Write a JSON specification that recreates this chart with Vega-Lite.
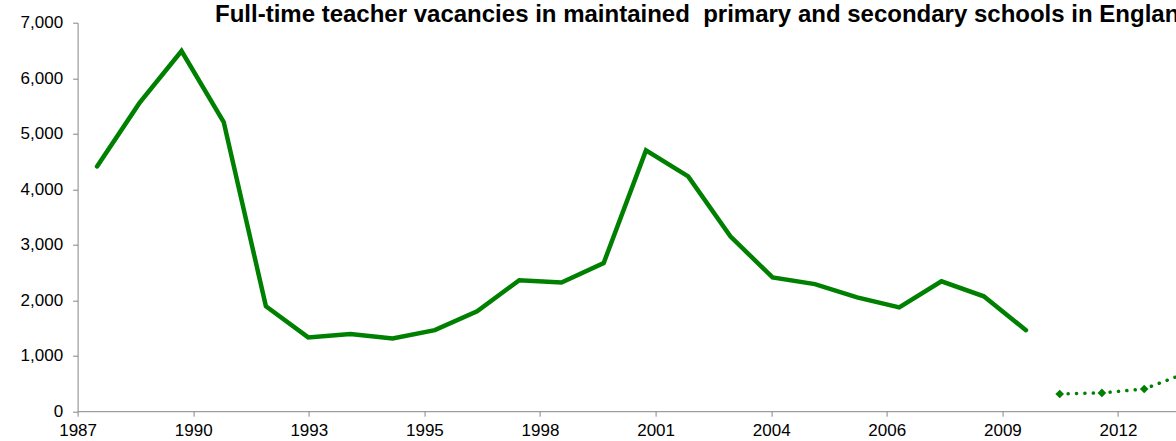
{
  "$schema": "https://vega.github.io/schema/vega-lite/v6.json",
  "autosize": "none",
  "width": 1098.4,
  "height": 388.5,
  "padding": {"left": 77.6, "top": 22.7, "right": 0, "bottom": 29.8},
  "background": "white",
  "config": {"view": {"stroke": null}, "font": "Liberation Sans"},
  "title": {
    "text": "Full-time teacher vacancies in maintained\u00a0 primary and secondary schools in England",
    "anchor": "start",
    "frame": "group",
    "orient": "top",
    "dx": 137.4,
    "offset": -32.6,
    "baseline": "alphabetic",
    "font": "Liberation Sans",
    "fontSize": 24,
    "fontWeight": "bold",
    "color": "#000000"
  },
  "datasets": {
    "main": [
      {"date": "1988-02-01", "vacancies": 4410},
      {"date": "1989-02-01", "vacancies": 5550},
      {"date": "1990-02-01", "vacancies": 6490},
      {"date": "1991-02-01", "vacancies": 5210},
      {"date": "1992-02-01", "vacancies": 1890},
      {"date": "1993-02-01", "vacancies": 1330},
      {"date": "1994-02-01", "vacancies": 1390},
      {"date": "1995-02-01", "vacancies": 1310},
      {"date": "1996-02-01", "vacancies": 1460},
      {"date": "1997-02-01", "vacancies": 1800},
      {"date": "1998-02-01", "vacancies": 2360},
      {"date": "1999-02-01", "vacancies": 2320},
      {"date": "2000-02-01", "vacancies": 2670},
      {"date": "2001-02-01", "vacancies": 4700},
      {"date": "2002-02-01", "vacancies": 4230},
      {"date": "2003-02-01", "vacancies": 3150},
      {"date": "2004-02-01", "vacancies": 2410},
      {"date": "2005-02-01", "vacancies": 2290},
      {"date": "2006-02-01", "vacancies": 2050},
      {"date": "2007-02-01", "vacancies": 1870},
      {"date": "2008-02-01", "vacancies": 2340},
      {"date": "2009-02-01", "vacancies": 2070},
      {"date": "2010-02-01", "vacancies": 1460}
    ],
    "census": [
      {"date": "2010-11-20", "vacancies": 310},
      {"date": "2011-11-20", "vacancies": 330},
      {"date": "2012-11-20", "vacancies": 400},
      {"date": "2013-11-20", "vacancies": 690}
    ]
  },
  "encoding": {
    "x": {
      "field": "date",
      "type": "temporal",
      "title": null,
      "scale": {"type": "utc", "domain": [556156800000, 1377129600000]},
      "axis": {
        "values": [556156800000, 642556800000, 728956800000, 815356800000, 901756800000, 988156800000, 1074556800000, 1160956800000, 1247356800000, 1333756800000],
        "format": "%Y",
        "grid": false,
        "domainColor": "#868686",
        "domainWidth": 1,
        "tickColor": "#868686",
        "tickSize": 5,
        "labelPadding": 6,
        "labelFontSize": 17,
        "labelColor": "#000000",
        "labelFont": "Liberation Sans",
        "labelOverlap": false,
        "labelFlush": false
      }
    },
    "y": {
      "field": "vacancies",
      "type": "quantitative",
      "title": null,
      "scale": {"domain": [0, 7000], "nice": false, "zero": true},
      "axis": {
        "values": [0, 1000, 2000, 3000, 4000, 5000, 6000, 7000],
        "format": ",d",
        "grid": false,
        "domainColor": "#868686",
        "domainWidth": 1,
        "tickColor": "#868686",
        "tickSize": 5,
        "labelPadding": 10,
        "labelFontSize": 17,
        "labelColor": "#000000",
        "labelFont": "Liberation Sans",
        "labelOverlap": false
      }
    }
  },
  "layer": [
    {
      "data": {"name": "main"},
      "mark": {"type": "line", "color": "#008000", "strokeWidth": 4.5, "strokeCap": "round", "strokeJoin": "miter", "clip": true}
    },
    {
      "data": {"name": "census"},
      "mark": {"type": "line", "color": "#008000", "strokeWidth": 3.5, "strokeCap": "round", "strokeDash": [0.1, 8.3], "clip": true}
    },
    {
      "data": {"name": "census"},
      "mark": {"type": "point", "shape": "diamond", "filled": true, "color": "#008000", "size": 75, "opacity": 1, "clip": true}
    }
  ]
}
